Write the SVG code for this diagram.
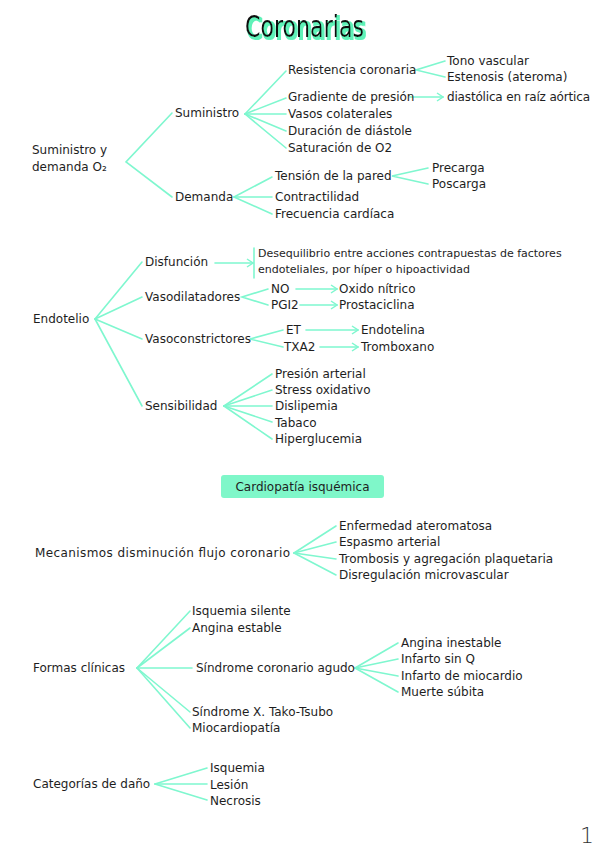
<svg xmlns="http://www.w3.org/2000/svg" width="599" height="848" viewBox="0 0 599 848">
<defs>
<style>
text{font-family:"DejaVu Sans","Liberation Sans",sans-serif;font-size:12px;fill:#1e1e1e}
.s{font-size:11px}
.t{font-family:"DejaVu Sans Condensed","DejaVu Sans",sans-serif;font-size:31px;fill:#111}
.c line,.c path,.c polyline{stroke:#7ff7cf;stroke-width:1.6;fill:none;stroke-linecap:round}
.box{fill:#7ff7c9}
</style>
<filter id="glow" x="-10%" y="-20%" width="120%" height="140%">
<feMorphology in="SourceAlpha" operator="dilate" radius="0.8" result="d"/>
<feOffset in="d" dx="1.5" dy="1.5" result="o"/>
<feFlood flood-color="#5ef2b8"/>
<feComposite in2="o" operator="in" result="g"/>
<feMerge><feMergeNode in="g"/><feMergeNode in="SourceGraphic"/></feMerge>
</filter>
<marker id="ar" viewBox="0 0 8 10" refX="7" refY="5" markerWidth="8" markerHeight="10" markerUnits="userSpaceOnUse" orient="auto">
<path d="M1,1 L7,5 L1,9" fill="none" stroke="#7ff7cf" stroke-width="1.5"/>
</marker>
</defs>
<rect width="599" height="848" fill="#fff"/>

<g id="title">
<text class="t" x="245" y="37" textLength="119" lengthAdjust="spacingAndGlyphs" filter="url(#glow)">Coronarias</text>
</g>

<g class="c" id="connectors">
<!-- section 1 -->
<polyline points="172,113 126,162 172,197"/>
<line x1="245" y1="114" x2="286" y2="71"/>
<line x1="245" y1="114" x2="286" y2="98"/>
<line x1="245" y1="114" x2="286" y2="114"/>
<line x1="245" y1="114" x2="286" y2="131"/>
<line x1="245" y1="114" x2="286" y2="148"/>
<polyline points="445,61 416,70 445,77"/>
<line x1="410" y1="97" x2="443" y2="97" marker-end="url(#ar)"/>
<line x1="234" y1="197" x2="272" y2="177"/>
<line x1="234" y1="197" x2="272" y2="197"/>
<line x1="234" y1="197" x2="272" y2="214"/>
<polyline points="428,168 392,176 428,184"/>
<!-- section 2 -->
<line x1="95" y1="319" x2="142" y2="262"/>
<line x1="95" y1="319" x2="142" y2="297"/>
<line x1="95" y1="319" x2="142" y2="339"/>
<line x1="95" y1="319" x2="142" y2="406"/>
<line x1="215" y1="263" x2="253" y2="263" marker-end="url(#ar)"/>
<line x1="254" y1="248" x2="254" y2="278"/>
<polyline points="268,289 242,297 268,305"/>
<line x1="296" y1="289" x2="337" y2="289" marker-end="url(#ar)"/>
<line x1="300" y1="305" x2="337" y2="305" marker-end="url(#ar)"/>
<polyline points="283,330 250,339 283,347"/>
<line x1="306" y1="330" x2="358" y2="330" marker-end="url(#ar)"/>
<line x1="320" y1="347" x2="358" y2="347" marker-end="url(#ar)"/>
<line x1="224" y1="406" x2="272" y2="374"/>
<line x1="224" y1="406" x2="272" y2="390"/>
<line x1="224" y1="406" x2="272" y2="406"/>
<line x1="224" y1="406" x2="272" y2="422"/>
<line x1="224" y1="406" x2="272" y2="439"/>
<!-- section 3 -->
<line x1="294" y1="553" x2="336" y2="526"/>
<line x1="294" y1="553" x2="336" y2="542"/>
<line x1="294" y1="553" x2="336" y2="559"/>
<line x1="294" y1="553" x2="336" y2="575"/>
<!-- section 4 -->
<line x1="137" y1="668" x2="190" y2="611"/>
<line x1="137" y1="668" x2="190" y2="628"/>
<line x1="137" y1="668" x2="192" y2="668"/>
<line x1="137" y1="668" x2="190" y2="712"/>
<line x1="137" y1="668" x2="190" y2="728"/>
<line x1="355" y1="668" x2="398" y2="643"/>
<line x1="355" y1="668" x2="398" y2="659"/>
<line x1="355" y1="668" x2="398" y2="676"/>
<line x1="355" y1="668" x2="398" y2="692"/>
<!-- section 5 -->
<line x1="155" y1="784" x2="207" y2="768"/>
<line x1="155" y1="784" x2="207" y2="784"/>
<line x1="155" y1="784" x2="207" y2="800"/>
</g>

<g id="n-suministro-demanda"><text x="32" y="154">Suministro y</text><text x="32" y="171">demanda O₂</text></g>
<g id="n-suministro"><text x="175" y="117">Suministro</text></g>
<g id="n-resistencia"><text x="288" y="74">Resistencia coronaria</text></g>
<g id="n-tono"><text x="447" y="65">Tono vascular</text></g>
<g id="n-estenosis"><text x="447" y="81">Estenosis (ateroma)</text></g>
<g id="n-gradiente"><text x="288" y="101">Gradiente de presión</text></g>
<g id="n-diastolica"><text x="447" y="101" textLength="143">diastólica en raíz aórtica</text></g>
<g id="n-vasos"><text x="288" y="118">Vasos colaterales</text></g>
<g id="n-duracion"><text x="288" y="135">Duración de diástole</text></g>
<g id="n-saturacion"><text x="288" y="152">Saturación de O2</text></g>
<g id="n-demanda"><text x="175" y="201">Demanda</text></g>
<g id="n-tension"><text x="275" y="180">Tensión de la pared</text></g>
<g id="n-precarga"><text x="432" y="172">Precarga</text></g>
<g id="n-poscarga"><text x="432" y="188">Poscarga</text></g>
<g id="n-contractilidad"><text x="275" y="201">Contractilidad</text></g>
<g id="n-frecuencia"><text x="275" y="218">Frecuencia cardíaca</text></g>

<g id="n-endotelio"><text x="33" y="323">Endotelio</text></g>
<g id="n-disfuncion"><text x="145" y="266">Disfunción</text></g>
<g id="n-desequilibrio"><text class="s" x="258" y="257">Desequilibrio entre acciones contrapuestas de factores</text><text class="s" x="258" y="273">endoteliales, por híper o hipoactividad</text></g>
<g id="n-vasodilatadores"><text x="145" y="301">Vasodilatadores</text></g>
<g id="n-no"><text x="271" y="293">NO</text></g>
<g id="n-oxido"><text x="339" y="293">Oxido nítrico</text></g>
<g id="n-pgi2"><text x="271" y="309">PGI2</text></g>
<g id="n-prostaciclina"><text x="339" y="309">Prostaciclina</text></g>
<g id="n-vasoconstrictores"><text x="145" y="343">Vasoconstrictores</text></g>
<g id="n-et"><text x="286" y="334">ET</text></g>
<g id="n-endotelina"><text x="361" y="334">Endotelina</text></g>
<g id="n-txa2"><text x="284" y="351">TXA2</text></g>
<g id="n-tromboxano"><text x="361" y="351">Tromboxano</text></g>
<g id="n-sensibilidad"><text x="145" y="410">Sensibilidad</text></g>
<g id="n-presion"><text x="275" y="378">Presión arterial</text></g>
<g id="n-stress"><text x="275" y="394">Stress oxidativo</text></g>
<g id="n-dislipemia"><text x="275" y="410">Dislipemia</text></g>
<g id="n-tabaco"><text x="275" y="427">Tabaco</text></g>
<g id="n-hiperglucemia"><text x="275" y="443">Hiperglucemia</text></g>

<g id="n-cardiopatia"><rect class="box" x="221" y="475" width="163" height="23" rx="3"/><text x="302.5" y="491" text-anchor="middle">Cardiopatía isquémica</text></g>

<g id="n-mecanismos"><text x="35" y="557" textLength="255">Mecanismos disminución flujo coronario</text></g>
<g id="n-enfermedad"><text x="339" y="530">Enfermedad ateromatosa</text></g>
<g id="n-espasmo"><text x="339" y="546">Espasmo arterial</text></g>
<g id="n-trombosis"><text x="339" y="563">Trombosis y agregación plaquetaria</text></g>
<g id="n-disregulacion"><text x="339" y="579">Disregulación microvascular</text></g>

<g id="n-formas"><text x="33" y="672">Formas clínicas</text></g>
<g id="n-isquemia-silente"><text x="192" y="615">Isquemia silente</text></g>
<g id="n-angina-estable"><text x="192" y="632">Angina estable</text></g>
<g id="n-sca"><text x="196" y="672">Síndrome coronario agudo</text></g>
<g id="n-angina-inestable"><text x="401" y="647">Angina inestable</text></g>
<g id="n-infarto-q"><text x="401" y="663">Infarto sin Q</text></g>
<g id="n-infarto-mio"><text x="401" y="680">Infarto de miocardio</text></g>
<g id="n-muerte"><text x="401" y="696">Muerte súbita</text></g>
<g id="n-sindrome-x"><text x="192" y="716">Síndrome X. Tako-Tsubo</text></g>
<g id="n-miocardiopatia"><text x="192" y="732">Miocardiopatía</text></g>

<g id="n-categorias"><text x="33" y="788">Categorías de daño</text></g>
<g id="n-isquemia"><text x="210" y="772">Isquemia</text></g>
<g id="n-lesion"><text x="210" y="789">Lesión</text></g>
<g id="n-necrosis"><text x="210" y="805">Necrosis</text></g>

<g id="page"><text x="580" y="843" style="font-family:'DejaVu Sans',sans-serif;font-size:22px;font-weight:200;fill:#333">1</text></g>
</svg>
